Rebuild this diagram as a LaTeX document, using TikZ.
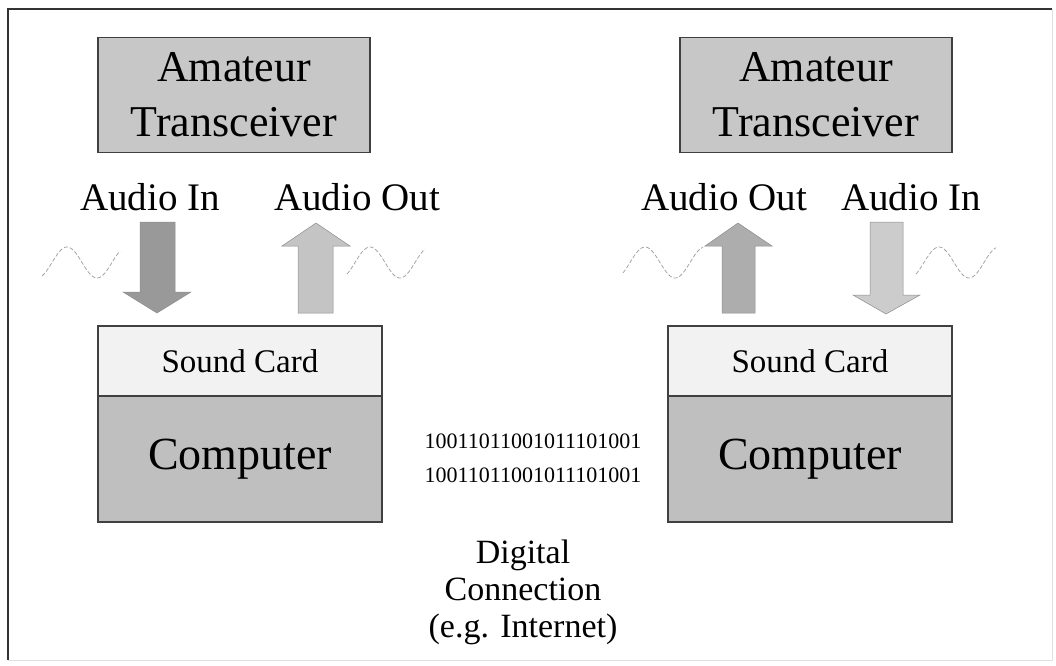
\documentclass[tikz,border=0pt]{standalone}
\usepackage{fontspec}
\setmainfont{Liberation Serif}
\begin{document}
\begin{tikzpicture}[x=1pt,y=-1pt,
  unitbox/.style={draw=black!75,line width=1.1pt,inner sep=0pt,anchor=center},
  radio/.style={unitbox,fill=black!22,minimum width=272pt,minimum height=115pt,
    align=center,font=\fontsize{44}{55}\selectfont},
  card/.style={unitbox,fill=black!5,minimum width=284pt,minimum height=70pt,
    font=\fontsize{33}{38}\selectfont},
  pc/.style={unitbox,fill=black!25,minimum width=284pt,minimum height=126pt,
    font=\fontsize{46}{52}\selectfont},
  lbl/.style={anchor=base,inner sep=0pt,font=\fontsize{39}{44}\selectfont},
  bits/.style={anchor=base,inner sep=0pt,font=\fontsize{22}{26}\selectfont},
  blockarrow/.style={draw=black!45,line width=0.5pt,line join=miter},
  wave/.style={draw=black!35,line width=0.8pt,dash pattern=on 4pt off 2pt}
]
\useasboundingbox (0,0) rectangle (1056,665);

% outer frame
\draw[black!80,line width=1.4pt] (8,660) -- (8,9) -- (1052,9);
\draw[black!12,line width=1pt] (1052,9) -- (1052,660) -- (8,660);

% transceivers
\node[radio] (txL) at (234,95) {Amateur\\Transceiver};
\node[radio] (txR) at (816,95) {Amateur\\Transceiver};

% sound cards and computers
\node[card] (scL) at (240,361) {Sound Card};
\node[pc]   (pcL) at (240,459) {Computer};
\node[card] (scR) at (810,361) {Sound Card};
\node[pc]   (pcR) at (810,459) {Computer};

% audio labels
\node[lbl] (inL)  at (150,210) {Audio In};
\node[lbl] (outL) at (357,210) {Audio Out};
\node[lbl] (outR) at (724,210) {Audio Out};
\node[lbl] (inR)  at (911,210) {Audio In};

% block arrows: left pair
\filldraw[blockarrow,fill=black!40]
  (140,222) -- (175,222) -- (175,292) -- (191,292) -- (157,313) -- (123,292) -- (140,292) -- cycle;
\filldraw[blockarrow,fill=black!23]
  (298,313) -- (333,313) -- (333,246) -- (350,246) -- (316,223) -- (282,246) -- (298,246) -- cycle;
% block arrows: right pair
\filldraw[blockarrow,fill=black!32]
  (722,313) -- (755,313) -- (755,246) -- (772,246) -- (738,223) -- (705,246) -- (722,246) -- cycle;
\filldraw[blockarrow,fill=black!20]
  (870,222) -- (903,222) -- (903,295) -- (920,295) -- (886,314) -- (853,295) -- (870,295) -- cycle;

% audio waves
\draw[wave] plot[domain=42:120,samples=60,smooth] (\x,{262.5-15.5*sin(6*(\x-67)+90)});
\draw[wave] plot[domain=347:425,samples=60,smooth] (\x,{262.5-15.5*sin(6*(\x-370)+90)});
\draw[wave] plot[domain=623:703,samples=60,smooth] (\x,{262.5-15.5*sin(6*(\x-645)+90)});
\draw[wave] plot[domain=916:996,samples=60,smooth] (\x,{262.5-15.5*sin(6*(\x-939)+90)});

% digital link (base anchor sits on the last line)
\node[bits] (b1) at (533,448) {10011011001011101001};
\node[bits] (b2) at (533,482) {10011011001011101001};
\node[anchor=base,inner sep=0pt,align=center,font=\fontsize{34}{37}\selectfont]
  (net) at (523,637) {Digital\\Connection\\(e.g. Internet)};
\end{tikzpicture}
\end{document}
